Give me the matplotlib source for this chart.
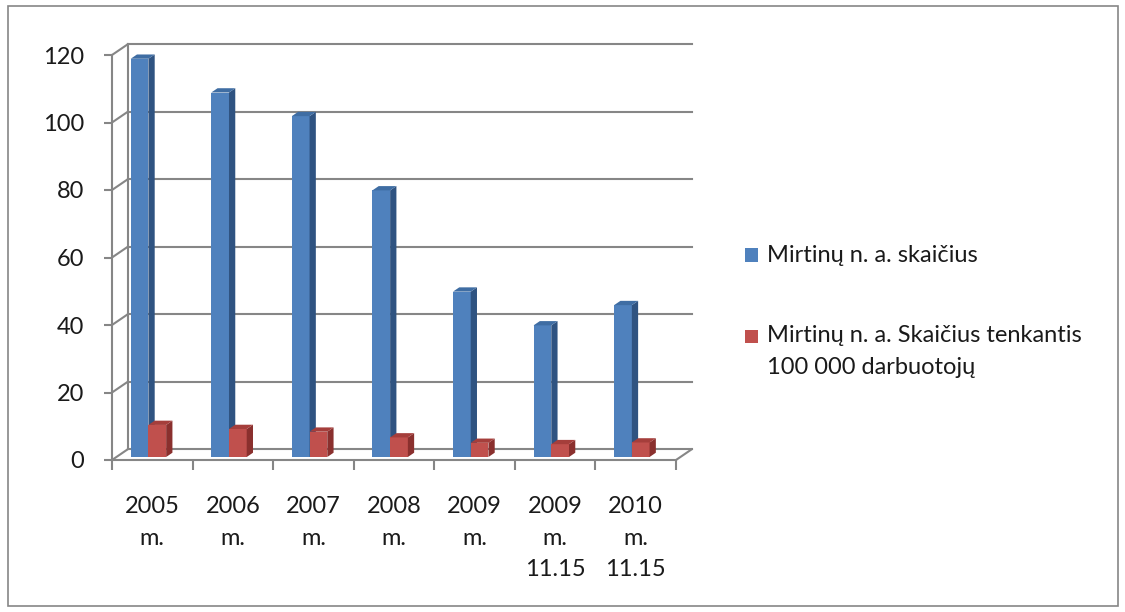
import matplotlib
matplotlib.use('Agg')
import matplotlib.pyplot as plt
from matplotlib.patches import Polygon, Rectangle
import numpy as np

plt.rcParams['font.family'] = ['Lato', 'DejaVu Sans']

categories = ['2005\nm.', '2006\nm.', '2007\nm.', '2008\nm.', '2009\nm.', '2009\nm.\n11.15', '2010\nm.\n11.15']
deaths = [118, 108, 101, 79, 49, 39, 45]
deaths_per_100k = [9.5, 8.3, 7.5, 5.8, 4.2, 3.8, 4.3]
series_names = ['Mirtinų n. a. skaičius', 'Mirtinų n. a. Skaičius tenkantis\n100 000 darbuotojų']
yticks = [0, 20, 40, 60, 80, 100, 120]

blue = ['#4F81BD', '#2F5381', '#3F6DA3']   # front, side, top
red = ['#C0504D', '#8A302E', '#A53E3B']
grid_c = '#868686'
fs = 17

W, H = 1125, 612
fig = plt.figure(figsize=(W / 100, H / 100), dpi=100)
fig.patches.append(Rectangle((8 / W, 6 / H), 1110 / W, 600 / H, transform=fig.transFigure,
                             fill=False, ec=grid_c, lw=1.2))

# front plane of the 3d box
left, right, top, bot = 112, 676, 55, 460
ax = fig.add_axes([left / W, (H - bot) / H, (right - left) / W, (bot - top) / H])
n = len(categories)
ax.set_xlim(0, n)
ax.set_ylim(0, 120)

# depth offset of back wall, in data units
DX = 15.7 / ((right - left) / n)
DY = 10.7 / ((bot - top) / 120)

for s in ['top', 'right']:
    ax.spines[s].set_visible(False)
for s in ['left', 'bottom']:
    ax.spines[s].set_color(grid_c)
    ax.spines[s].set_linewidth(1.5)

ax.set_yticks(yticks)
ax.tick_params(axis='y', length=6, width=1.5, color=grid_c, pad=14, labelsize=fs, labelcolor='#1a1a1a')
ax.set_xticks(np.arange(n + 1))
ax.set_xticklabels([])
ax.set_xticks(np.arange(n) + 0.5, minor=True)
ax.set_xticklabels(categories, minor=True, fontsize=fs, color='#1a1a1a', linespacing=1.62, va='top')
ax.tick_params(axis='x', which='major', length=7.5, width=1.5, color=grid_c)
ax.tick_params(axis='x', which='minor', length=0, pad=26)

# back wall gridlines and side wall diagonals
for v in yticks:
    ax.plot([DX, n + DX], [v + DY, v + DY], color=grid_c, lw=1.5, clip_on=False, zorder=1)
    ax.plot([0, DX], [v, v + DY], color=grid_c, lw=1.5, clip_on=False, zorder=1)
ax.plot([DX, DX], [DY, 120 + DY], color=grid_c, lw=1.5, clip_on=False, zorder=1)
ax.plot([n, n + DX], [0, DY], color=grid_c, lw=1.5, clip_on=False, zorder=1)

# 3d bars
d0, d1 = 0.28, 0.68
bw = 0.22
x = np.arange(n)
for k, (vals, cols) in enumerate([(deaths, blue), (deaths_per_100k, red)]):
    x0 = x + 0.232 + k * bw
    ax.bar(x0, vals, bw, bottom=d0 * DY, align='edge', color=cols[0], lw=0, zorder=3 + k, clip_on=False)
    for xi, v in zip(x0, vals):
        xr = xi + bw
        side = [(xr, d0 * DY), (xr + (d1 - d0) * DX, d1 * DY),
                (xr + (d1 - d0) * DX, v + d1 * DY), (xr, v + d0 * DY)]
        topf = [(xi, v + d0 * DY), (xr, v + d0 * DY),
                (xr + (d1 - d0) * DX, v + d1 * DY), (xi + (d1 - d0) * DX, v + d1 * DY)]
        ax.add_patch(Polygon(side, closed=True, fc=cols[1], lw=0, zorder=3 + k, clip_on=False))
        ax.add_patch(Polygon(topf, closed=True, fc=cols[2], lw=0, zorder=3 + k, clip_on=False))

# legend
leg_y = [255, 336]
for name, cols, yy in zip(series_names, [blue, red], leg_y):
    fig.patches.append(Rectangle((745 / W, (H - yy - 6.5) / H), 13 / W, 13 / H,
                                 transform=fig.transFigure, fc=cols[0], lw=0))
    fig.text(767 / W, (H - yy) / H, name.split('\n')[0], fontsize=fs, color='#1a1a1a', va='center')
    if '\n' in name:
        fig.text(767 / W, (H - yy - 32) / H, name.split('\n')[1], fontsize=fs, color='#1a1a1a', va='center')

fig.savefig('out.png', dpi=100)
